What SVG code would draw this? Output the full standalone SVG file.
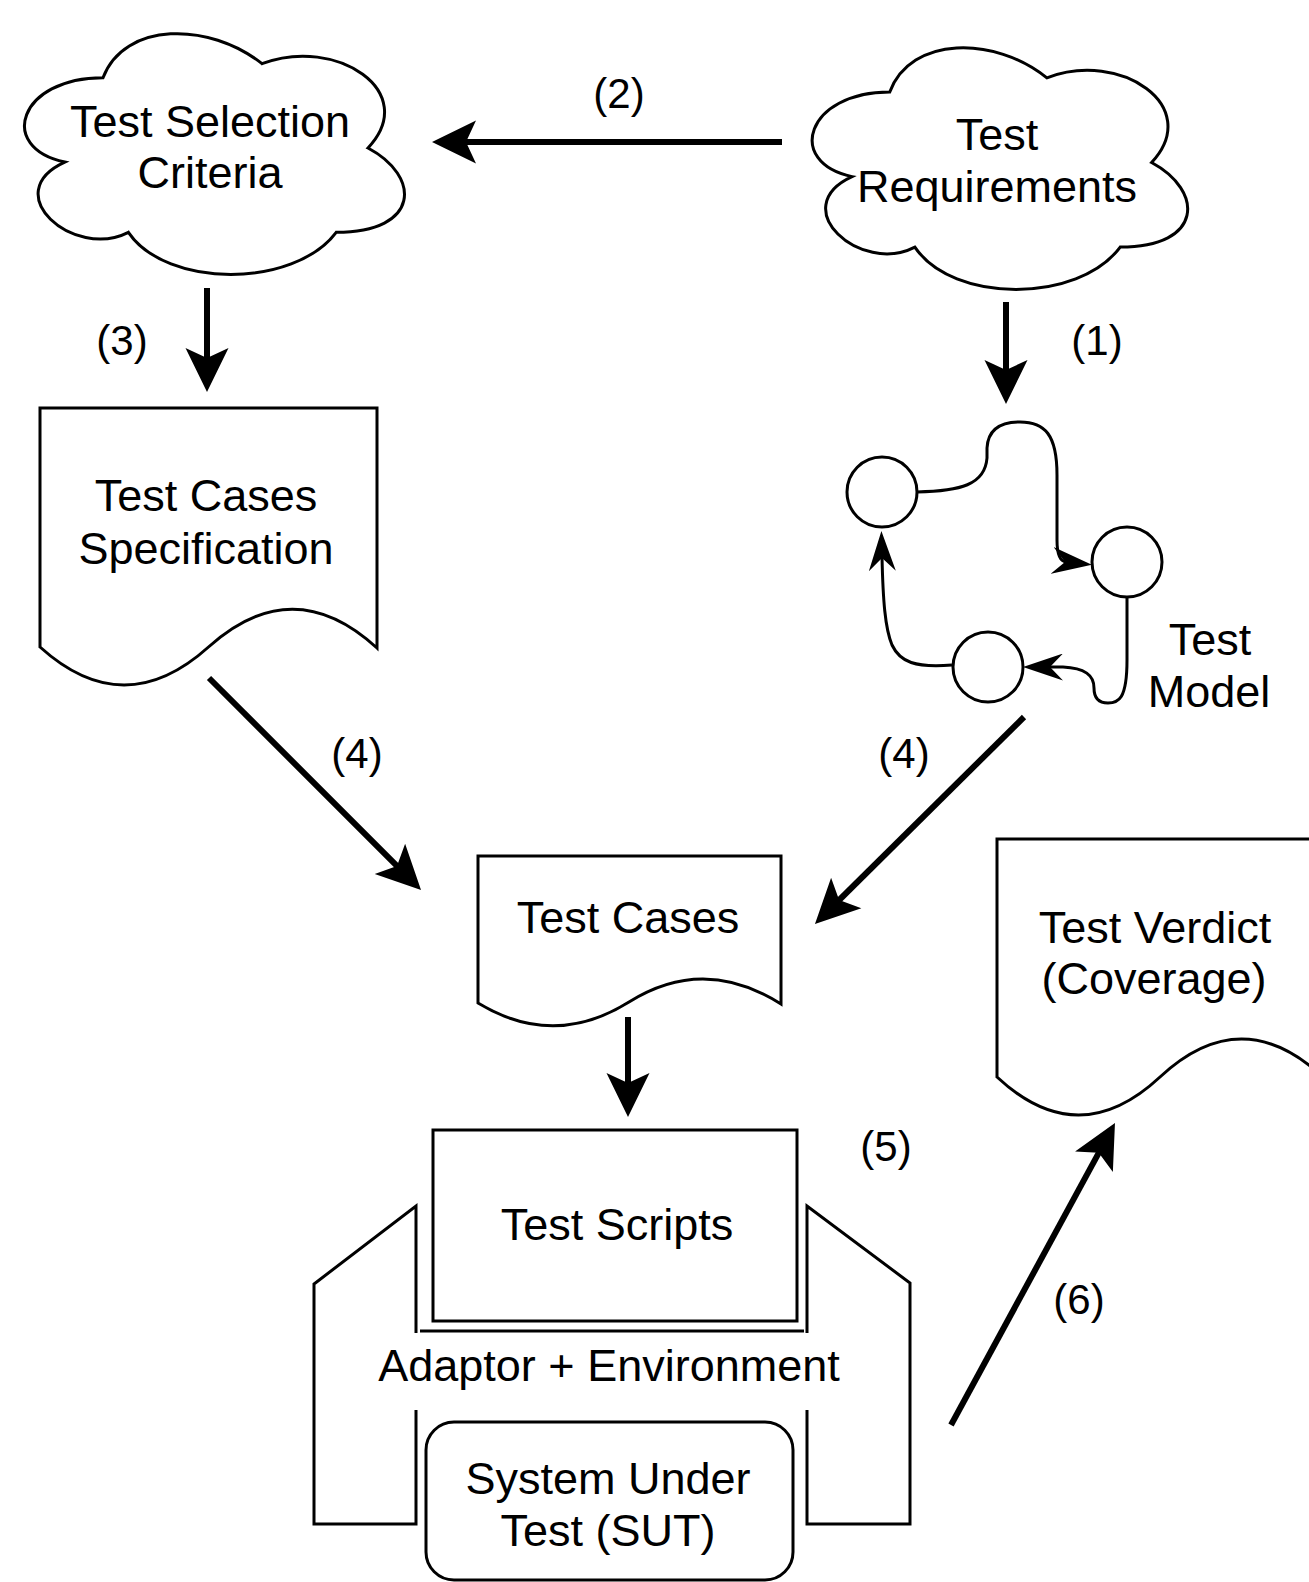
<svg xmlns="http://www.w3.org/2000/svg" width="1309" height="1582" viewBox="0 0 1309 1582">
<defs>
<style>
.shape{fill:#fff;stroke:#000;stroke-width:3}
.line{fill:none;stroke:#000;stroke-width:3}
.conn{fill:none;stroke:#000;stroke-width:6}
.thin{fill:none;stroke:#000;stroke-width:3}
text{font-family:"Liberation Sans",Arial,Helvetica,sans-serif;fill:#000;text-anchor:middle}
.t{font-size:45px}
.l{font-size:42px}
</style>
<marker id="ah" markerUnits="userSpaceOnUse" markerWidth="44" markerHeight="44" viewBox="0 0 44 44" refX="12" refY="22" orient="auto">
<path d="M44,22 L0,0.5 L10,22 L0,43.5 Z" fill="#000"/>
</marker>
<marker id="sh" markerUnits="userSpaceOnUse" markerWidth="40" markerHeight="27" viewBox="0 0 40 27" refX="14" refY="13.5" orient="auto">
<path d="M40,13.5 L0,0 L13,13.5 L0,27 Z" fill="#000"/>
</marker>
</defs>
<rect width="1309" height="1582" fill="#fff"/>

<g id="test-selection-criteria">
<path class="shape" d="M 103,77.75 C 18.2,77.75 -3,148 64.8,162.05 C -3,192.96 73.3,260.4 128.4,232.3 C 166.6,288.5 293.8,288.5 336.2,232.3 C 421,232.3 421,176.1 368,148 C 421,91.8 336.2,35.6 262,63.7 C 209,21.55 124.2,21.55 103,77.75 Z"/>
<text class="t" x="210" y="137">Test Selection</text>
<text class="t" x="210" y="188">Criteria</text>
</g>

<g id="test-requirements">
<path class="shape" d="M 889.75,92 C 805.95,92 785,162.5 852.04,176.6 C 785,207.6 860.42,275.3 914.89,247.1 C 952.6,303.5 1078.3,303.5 1120.2,247.1 C 1204,247.1 1204,190.7 1151.6,162.5 C 1204,106.1 1120.2,49.7 1046.9,77.9 C 994.5,35.6 910.7,35.6 889.75,92 Z"/>
<text class="t" x="997" y="150">Test</text>
<text class="t" x="997" y="202">Requirements</text>
</g>

<g id="test-cases-specification">
<path class="shape" d="M 40,647 L 40,408 L 377,408 L 377,648 Q 293,571 208.5,647 T 40,647 Z"/>
<text class="t" x="206" y="511">Test Cases</text>
<text class="t" x="206" y="564">Specification</text>
</g>

<g id="test-model">
<circle class="shape" cx="882" cy="492" r="35"/>
<circle class="shape" cx="1127" cy="562" r="35"/>
<circle class="shape" cx="988" cy="667" r="35"/>
<path class="thin" marker-end="url(#sh)" d="M 917,492 C 960,491 985,485 987,458 L 987,448 C 988,430 1000,422 1020,422 C 1045,422 1057,435 1057,475 L 1057,540 Q 1057,561 1066,562"/>
<path class="thin" marker-end="url(#sh)" d="M 1127,598 L 1127,660 C 1127,700 1118,703 1108,703 C 1096,703 1094,695 1094,688 C 1094,675 1085,668 1063,667 L 1049,667"/>
<path class="thin" marker-end="url(#sh)" d="M 952,665 C 915,668 900,662 892,645 C 885,628 883,600 882,557"/>
<text class="t" x="1210" y="655">Test</text>
<text class="t" x="1209" y="707">Model</text>
</g>

<g id="test-cases">
<path class="shape" d="M 478,1003 L 478,856 L 781,856 L 781,1004 Q 704,955 629,1002 T 478,1003 Z"/>
<text class="t" x="628" y="933">Test Cases</text>
</g>

<g id="test-verdict">
<path class="shape" d="M 997,1077 L 997,839 L 1323,839 L 1323,1077 Q 1241.5,1001 1160,1077 T 997,1077 Z"/>
<text class="t" x="1155" y="943">Test Verdict</text>
<text class="t" x="1154" y="994">(Coverage)</text>
</g>

<g id="adaptor-environment">
<path class="line" d="M 416,1333 L 416,1206 L 314,1284 L 314,1524 L 416,1524 L 416,1410"/>
<path class="line" d="M 807,1333 L 807,1206 L 910,1283 L 910,1524 L 807,1524 L 807,1410"/>
<path class="line" d="M 420,1331 L 804,1331"/>
<text class="t" x="609" y="1381">Adaptor + Environment</text>
</g>

<g id="test-scripts">
<rect class="shape" x="433" y="1130" width="364" height="191"/>
<text class="t" x="617" y="1240">Test Scripts</text>
</g>

<g id="sut">
<rect class="shape" x="426" y="1422" width="367" height="158" rx="28" ry="28"/>
<text class="t" x="608" y="1494">System Under</text>
<text class="t" x="608" y="1546">Test (SUT)</text>
</g>

<g id="connectors">
<path class="conn" marker-end="url(#ah)" d="M 782,142 L 464,142"/>
<path class="conn" marker-end="url(#ah)" d="M 1006,302 L 1006,372"/>
<path class="conn" marker-end="url(#ah)" d="M 207,288 L 207,360"/>
<path class="conn" marker-end="url(#ah)" d="M 209,678 L 398.4,867.4"/>
<path class="conn" marker-end="url(#ah)" d="M 1024,717 L 837.7,901.5"/>
<path class="conn" marker-end="url(#ah)" d="M 628,1017 L 628,1085"/>
<path class="conn" marker-end="url(#ah)" d="M 951,1425 L 1099.7,1151.1"/>
</g>

<g id="labels">
<text class="l" x="619" y="108">(2)</text>
<text class="l" x="1097" y="355">(1)</text>
<text class="l" x="122" y="355">(3)</text>
<text class="l" x="357" y="768">(4)</text>
<text class="l" x="904" y="768">(4)</text>
<text class="l" x="886" y="1161">(5)</text>
<text class="l" x="1079" y="1314">(6)</text>
</g>
</svg>
